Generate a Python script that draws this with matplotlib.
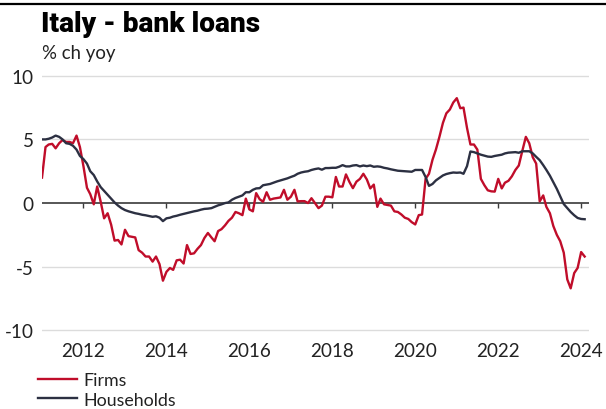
import numpy as np
import pandas as pd
import matplotlib
matplotlib.use('Agg')
import matplotlib.pyplot as plt

# Monthly year-on-year growth of Italian bank loans, Jan 2011 - Feb 2024
start_month = '2011-01-01'

firms = [
    2.0, 4.4, 4.6, 4.65, 4.3, 4.7, 4.95, 4.8, 4.8, 4.7, 5.3, 4.4,           # 2011
    2.9, 1.2, 0.7, -0.1, 1.3, 0.1, -1.2, -0.8, -1.7, -2.95, -2.9, -3.25,    # 2012
    -2.1, -2.6, -2.65, -2.7, -3.7, -3.9, -4.2, -4.2, -4.6, -4.2, -4.8, -6.1,  # 2013
    -5.4, -5.1, -5.25, -4.5, -4.45, -4.75, -3.3, -4.0, -3.95, -3.6, -3.3, -2.75,  # 2014
    -2.35, -2.7, -3.0, -2.2, -2.05, -1.75, -1.4, -1.15, -0.7, -0.8, -0.95, 0.35,  # 2015
    -0.5, -0.65, 0.78, 0.3, 0.1, 0.85, 0.26, 0.35, 0.4, 0.44, 1.04, 0.26,   # 2016
    0.5, 1.04, 0.13, 0.15, 0.15, 0.0, 0.38, 0.0, -0.4, -0.2, 0.5, 0.5,      # 2017
    0.45, 2.05, 1.3, 1.3, 2.25, 1.65, 1.17, 1.68, 1.9, 2.3, 1.85, 1.15,     # 2018
    1.45, -0.3, 0.35, -0.1, -0.15, -0.2, -0.65, -0.7, -0.9, -1.15, -1.25, -1.5,  # 2019
    -1.68, -0.95, -0.9, 1.9, 2.3, 3.4, 4.2, 5.2, 6.3, 7.05, 7.35, 7.9,      # 2020
    8.24, 7.45, 7.5, 5.9, 4.6, 4.6, 4.2, 1.9, 1.4, 1.0, 0.92, 0.9,          # 2021
    1.9, 1.15, 1.6, 1.75, 2.1, 2.6, 2.95, 4.1, 5.2, 4.7, 3.6, 3.1,          # 2022
    0.13, 0.6, -0.3, -0.8, -1.8, -2.5, -3.0, -3.9, -6.0, -6.7, -5.5, -5.1,  # 2023
    -3.85, -4.2,                                                            # 2024
]

households = [
    5.0, 5.0, 5.05, 5.15, 5.3, 5.2, 5.0, 4.7, 4.65, 4.5, 4.2, 3.7,          # 2011
    3.45, 3.1, 2.5, 2.2, 1.7, 1.25, 0.95, 0.65, 0.35, 0.05, -0.2, -0.4,     # 2012
    -0.55, -0.65, -0.72, -0.8, -0.85, -0.92, -0.96, -1.02, -1.08, -1.04, -1.15, -1.42,  # 2013
    -1.2, -1.15, -1.06, -1.0, -0.92, -0.85, -0.78, -0.72, -0.65, -0.6, -0.52, -0.46,  # 2014
    -0.44, -0.4, -0.3, -0.18, -0.1, 0.0, 0.05, 0.26, 0.4, 0.5, 0.6, 0.85,   # 2015
    0.85, 1.04, 1.15, 1.17, 1.4, 1.45, 1.5, 1.6, 1.7, 1.78, 1.87, 1.94,     # 2016
    2.05, 2.15, 2.3, 2.4, 2.46, 2.5, 2.6, 2.67, 2.72, 2.62, 2.75, 2.75,     # 2017
    2.77, 2.77, 2.85, 2.98, 2.88, 2.88, 2.95, 2.98, 2.88, 2.95, 2.9, 2.95,  # 2018
    2.85, 2.88, 2.85, 2.77, 2.72, 2.65, 2.6, 2.54, 2.52, 2.5, 2.48, 2.46,   # 2019
    2.6, 2.6, 2.6, 2.05, 1.35, 1.5, 1.78, 1.98, 2.17, 2.28, 2.35, 2.4,      # 2020
    2.38, 2.4, 2.3, 2.9, 4.05, 4.0, 3.9, 3.8, 3.72, 3.65, 3.63, 3.7,        # 2021
    3.75, 3.8, 3.9, 3.96, 3.98, 4.0, 3.95, 4.07, 4.07, 4.07, 3.9, 3.63,     # 2022
    3.37, 2.98, 2.6, 2.15, 1.63, 1.11, 0.52, -0.08, -0.39, -0.7, -0.96, -1.17,  # 2023
    -1.25, -1.27,                                                           # 2024
]

tick_years = [2012, 2014, 2016, 2018, 2020, 2022, 2024]
y_ticks = [-10, -5, 0, 5, 10]

RED = '#c00d2a'
NAVY = '#2c3042'
TEXT = '#222222'
BODY = ['Lato', 'DejaVu Sans']


def main():
    dates = pd.date_range(start_month, periods=len(firms), freq='MS')

    fig = plt.figure(figsize=(6.06, 4.10), dpi=100)
    ax = fig.add_axes([0.0693, 0.1763, 0.9026, 0.652])

    # gridlines and zero line
    for v in y_ticks:
        if v == 0:
            ax.axhline(v, color='#3a3a3a', linewidth=1.2, zorder=2)
        else:
            ax.axhline(v, color='#dcdcdc', linewidth=1.0, zorder=1)

    ax.plot(dates, firms, color=RED, linewidth=1.7, label='Firms', zorder=3)
    ax.plot(dates, households, color=NAVY, linewidth=1.7, label='Households', zorder=4)

    tick_dates = pd.to_datetime([f'{y}-01-01' for y in tick_years])
    ax.vlines(tick_dates, -0.35, 0, color='#3a3a3a', linewidth=1.0, zorder=2)

    ax.set_xlim(pd.Timestamp('2011-01-01'), pd.Timestamp('2024-03-10'))
    ax.set_ylim(-10.5, 10.5)

    ax.set_xticks(tick_dates)
    ax.set_xticklabels([str(y) for y in tick_years])
    ax.set_yticks(y_ticks)
    ax.set_yticklabels([str(v) for v in y_ticks])
    ax.tick_params(axis='both', length=0, labelsize=13.6, colors=TEXT)
    ax.tick_params(axis='x', pad=4)
    ax.tick_params(axis='y', pad=6)
    for lab in ax.get_xticklabels() + ax.get_yticklabels():
        lab.set_family(BODY)

    for s in ax.spines.values():
        s.set_visible(False)

    # header
    fig.add_artist(plt.Line2D([0, 1], [1 - 5 / 410, 1 - 5 / 410],
                              color='black', linewidth=1.6, transform=fig.transFigure))
    fig.text(41 / 606, 1 - 32.5 / 410, 'Italy - bank loans', family=['Roboto', 'Lato'],
             fontweight='black', fontsize=20.2, color='black', va='baseline')
    fig.text(42 / 606, 1 - 59.5 / 410, '% ch yoy', family=BODY,
             fontsize=13.4, color=TEXT, va='baseline')

    leg = ax.legend(loc='upper left', bbox_to_anchor=(38 / 606, 1 - 373 / 410),
                    bbox_transform=fig.transFigure, frameon=False,
                    handlelength=2.2, handletextpad=0.35, labelspacing=0.2,
                    borderpad=0, borderaxespad=0,
                    prop={'family': BODY, 'size': 12.8})
    for t in leg.get_texts():
        t.set_color(TEXT)

    fig.savefig('out.png', dpi=100, facecolor='white')
    plt.close(fig)


if __name__ == '__main__':
    main()
